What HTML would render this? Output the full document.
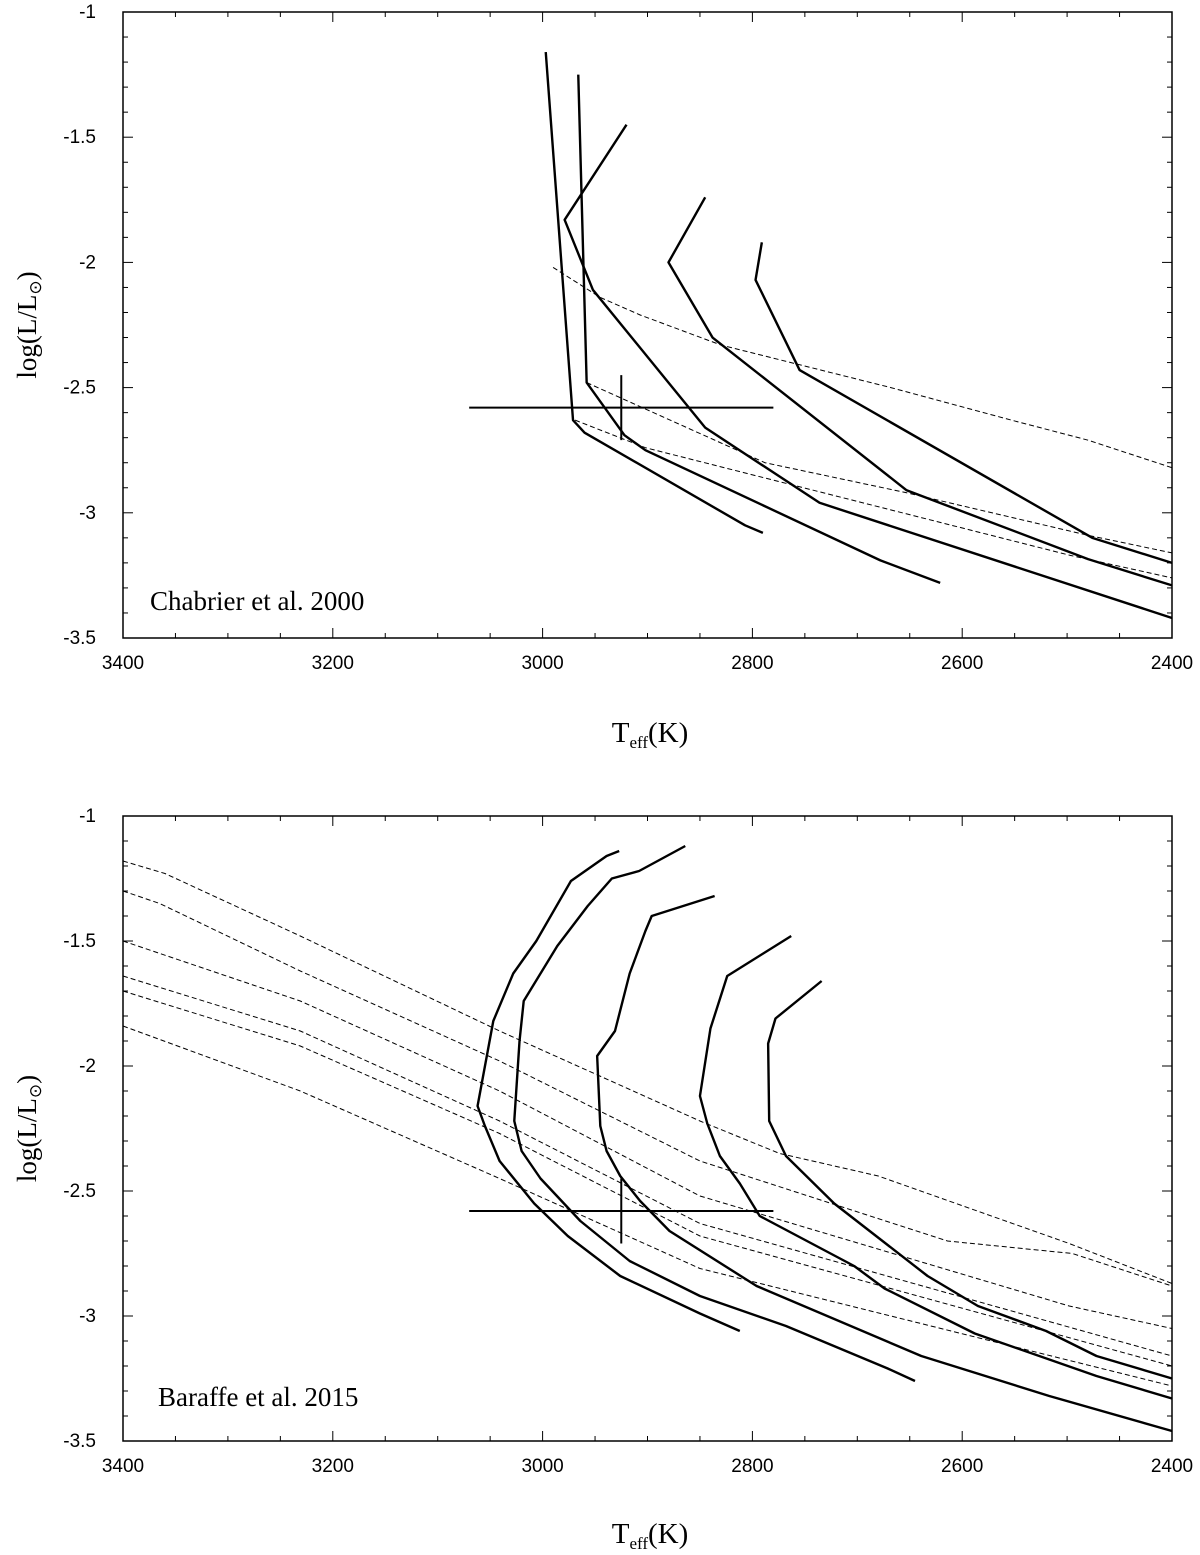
<!DOCTYPE html>
<html><head><meta charset="utf-8"><style>
html,body{margin:0;padding:0;background:#fff;width:1200px;height:1555px;overflow:hidden}
svg{display:block}
</style></head><body>
<svg id="fig" width="1200" height="1555" xmlns="http://www.w3.org/2000/svg"></svg>
<script>
// ---- data: top panel (Chabrier et al. 2000) ----
const topTracksT = [
 [2997,2971,2960,2807,2790],
 [2966,2958,2922,2902,2678,2621],
 [2920,2979,2952,2845,2736,2400],
 [2845,2880,2838,2653,2480,2400],
 [2791,2797,2755,2476,2400]
];
const topTracksL = [
 [-1.16,-2.63,-2.68,-3.05,-3.08],
 [-1.25,-2.48,-2.69,-2.75,-3.19,-3.28],
 [-1.45,-1.83,-2.11,-2.66,-2.96,-3.42],
 [-1.74,-2.0,-2.30,-2.91,-3.185,-3.29],
 [-1.92,-2.07,-2.43,-3.10,-3.20]
];
const topIsoT = [
 [2990,2945,2907,2830,2668,2553,2480,2400],
 [2958,2788,2653,2480,2400],
 [2969,2902,2497,2400]
];
const topIsoL = [
 [-2.02,-2.14,-2.21,-2.33,-2.50,-2.63,-2.71,-2.82],
 [-2.48,-2.80,-2.92,-3.09,-3.16],
 [-2.63,-2.74,-3.17,-3.26]
];
// ---- data: bottom panel (Baraffe et al. 2015) ----
const botTracksT = [
 [2927,2939,2973,3006,3028,3047,3062,3055,3041,3008,2976,2926,2850,2812],
 [2864,2908,2934,2957,2986,3018,3022,3027,3020,3002,2964,2917,2850,2768,2671,2645],
 [2836,2896,2902,2917,2931,2948,2945,2939,2926,2907,2879,2796,2639,2517,2400],
 [2763,2824,2840,2850,2843,2831,2812,2793,2703,2674,2588,2472,2400],
 [2734,2778,2785,2784,2768,2722,2633,2585,2520,2472,2400]
];
const botTracksL = [
 [-1.14,-1.16,-1.26,-1.50,-1.63,-1.82,-2.16,-2.24,-2.38,-2.55,-2.68,-2.84,-2.99,-3.06],
 [-1.12,-1.22,-1.25,-1.36,-1.52,-1.74,-1.90,-2.22,-2.34,-2.45,-2.62,-2.78,-2.92,-3.04,-3.21,-3.26],
 [-1.32,-1.40,-1.46,-1.63,-1.86,-1.96,-2.24,-2.34,-2.44,-2.54,-2.66,-2.88,-3.16,-3.32,-3.46],
 [-1.48,-1.64,-1.85,-2.12,-2.23,-2.36,-2.47,-2.60,-2.80,-2.89,-3.07,-3.24,-3.33],
 [-1.66,-1.81,-1.91,-2.22,-2.36,-2.55,-2.84,-2.96,-3.06,-3.16,-3.25]
];
const botIsoT = [
 [3400,3360,3231,3041,2850,2774,2680,2498,2400],
 [3400,3365,3231,3041,2850,2614,2495,2400],
 [3400,3231,3041,2850,2498,2400],
 [3400,3231,3041,2850,2400],
 [3400,3231,3041,2850,2400],
 [3400,3231,3041,2850,2400]
];
const botIsoL = [
 [-1.18,-1.23,-1.48,-1.86,-2.22,-2.35,-2.44,-2.71,-2.87],
 [-1.30,-1.35,-1.62,-1.98,-2.38,-2.70,-2.75,-2.88],
 [-1.50,-1.74,-2.10,-2.52,-2.96,-3.05],
 [-1.64,-1.86,-2.22,-2.63,-3.16],
 [-1.70,-1.92,-2.27,-2.68,-3.20],
 [-1.84,-2.10,-2.45,-2.81,-3.28]
];
// error bar: T range/centre, L centre/range
const errT = [3070, 2925, 2780];
const errL = [-2.58, -2.45, -2.71];
const xTicks = [3400,3200,3000,2800,2600,2400];
const yTicks = [-1,-1.5,-2,-2.5,-3,-3.5];
const xTickLabels = ["3400","3200","3000","2800","2600","2400"];
const yTickLabels = ["-1","-1.5","-2","-2.5","-3","-3.5"];

const svg = document.getElementById('fig');
const NS = 'http://www.w3.org/2000/svg';
function mk(tag, attrs, parent){const e=document.createElementNS(NS,tag);for(const k in attrs)e.setAttribute(k,attrs[k]);(parent||svg).appendChild(e);return e;}

function panel(name, top, bottom, tracksT, tracksL, isoT, isoL, label, labelPos, xTitleY){
  const left=123,right=1172;
  const g = mk('g',{});
  
  
  const X = t => left + (3400 - t) / 1000 * (right-left);
  const Y = l => top + (-1 - l) / 2.5 * (bottom-top);
  const fr = mk('rect',{x:left,y:top,width:right-left,height:bottom-top,fill:'none',stroke:'#000','stroke-width':1.5},g);
  
  
  for(let t=3400;t>=2400;t-=50){
    const major = t%200===0; const len = major?10:5;
    mk('line',{x1:X(t),x2:X(t),y1:bottom,y2:bottom-len,stroke:'#000','stroke-width':1},g);
    mk('line',{x1:X(t),x2:X(t),y1:top,y2:top+len,stroke:'#000','stroke-width':1},g);
  }
  for(let i=0;i<=25;i++){
    const l=-1-i*0.1; const major=i%5===0; const len=major?10:5;
    mk('line',{x1:left,x2:left+len,y1:Y(l),y2:Y(l),stroke:'#000','stroke-width':1},g);
    mk('line',{x1:right,x2:right-len,y1:Y(l),y2:Y(l),stroke:'#000','stroke-width':1},g);
  }
  xTicks.forEach((t,i)=>{
    const tx=mk('text',{x:X(t),y:bottom+31,'text-anchor':'middle','font-family':'Liberation Sans, sans-serif','font-size':19},g);
    
    
    tx.textContent=xTickLabels[i];
  });
  yTicks.forEach((l,i)=>{
    const tx=mk('text',{x:96,y:Y(l)+6,'text-anchor':'end','font-family':'Liberation Sans, sans-serif','font-size':19},g);
    
    
    tx.textContent=yTickLabels[i];
  });
  isoT.forEach((arr,i)=>{
    const p=mk('polyline',{points:arr.map((t,j)=>X(t)+','+Y(isoL[i][j])).join(' '),fill:'none',stroke:'#000','stroke-width':1,'stroke-dasharray':'5,3'},g);
    
    
  });
  tracksT.forEach((arr,i)=>{
    const p=mk('polyline',{points:arr.map((t,j)=>X(t)+','+Y(tracksL[i][j])).join(' '),fill:'none',stroke:'#000','stroke-width':2.4,'stroke-linejoin':'round'},g);
    
    
  });
  const eh=mk('line',{x1:X(errT[0]),x2:X(errT[2]),y1:Y(errL[0]),y2:Y(errL[0]),stroke:'#000','stroke-width':2},g);
  
  
  const ev=mk('line',{x1:X(errT[1]),x2:X(errT[1]),y1:Y(errL[1]),y2:Y(errL[2]),stroke:'#000','stroke-width':2},g);
  
  
  const lb=mk('text',{x:labelPos[0],y:labelPos[1],'font-family':'Liberation Serif, serif','font-size':27},g);
  
  
  lb.textContent=label;
  const xt=mk('text',{x:650,y:xTitleY,'text-anchor':'middle','font-family':'Liberation Serif, serif','font-size':29},g);
  
  
  xt.innerHTML='T<tspan font-size="17" dy="6">eff</tspan><tspan dy="-6">(K)</tspan>';
  const cy=(top+bottom)/2;
  const yt=mk('text',{x:36,y:cy,'text-anchor':'middle','font-family':'Liberation Serif, serif','font-size':27,transform:'rotate(-90 36 '+cy+')'},g);
  
  
  yt.innerHTML='log(L/L<tspan font-size="17" dy="5">⊙</tspan><tspan dy="-5">)</tspan>';
}
panel('top-panel',12,638,topTracksT,topTracksL,topIsoT,topIsoL,'Chabrier et al. 2000',[150,610],742);
panel('bottom-panel',816,1441,botTracksT,botTracksL,botIsoT,botIsoL,'Baraffe et al. 2015',[158,1406],1543);
</script>
</body></html>
